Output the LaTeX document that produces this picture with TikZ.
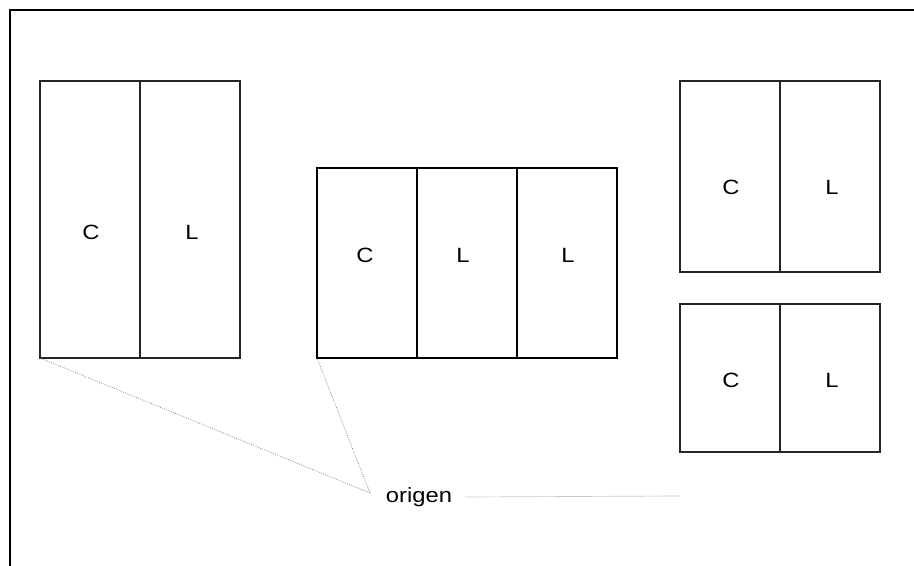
\documentclass[tikz,border=0pt]{standalone}
\usepackage{fontspec}
\setmainfont{Liberation Sans}[FakeStretch=1.15]
\begin{document}
\begin{tikzpicture}[x=0.75pt, y=-0.75pt]
\tikzset{
  cell/.style={draw=black!85, line width=0.8pt},
  boldcell/.style={draw=black, line width=1.5pt},
  letter/.style={font=\fontsize{15.5}{18}\selectfont, inner sep=0pt},
  guide/.style={draw=black!60, densely dotted, line width=0.5pt}
}
\useasboundingbox (0,0) rectangle (914,566);
\draw [line width=1.8pt] (10,566) -- (10,10) -- (914,10);

% left pair
\draw [cell] (40,81) rectangle (240,358);
\draw [cell] (140,81) -- (140,358);
\node[letter] (c1) at (91,232) {C};
\node[letter] (l1) at (192,232) {L};
\coordinate (p1) at (40,358);

% middle triple
\draw [boldcell] (317,168) rectangle (617,358);
\draw [boldcell] (417,168) -- (417,358);
\draw [boldcell] (517,168) -- (517,358);
\node[letter] (c2) at (365,255) {C};
\node[letter] (l2) at (463,255) {L};
\node[letter] (l3) at (568,255) {L};
\coordinate (p2) at (317,358);

% right pairs
\draw [cell] (680,81) rectangle (880,272);
\draw [cell] (780,81) -- (780,272);
\node[letter] (c3) at (731,187) {C};
\node[letter] (l4) at (832,187) {L};

\draw [cell] (680,304) rectangle (880,452);
\draw [cell] (780,304) -- (780,452);
\node[letter] (c4) at (731,380) {C};
\node[letter] (l5) at (832,380) {L};

% origin
\node[letter] (origen) at (419,497) {origen};
\coordinate (o) at (370,493);
\coordinate (e) at (680,496);
\draw [guide] (p1) -- (o) -- (p2);
\draw [guide] ([xshift=10pt]origen.east) -- (e);
\end{tikzpicture}
\end{document}
